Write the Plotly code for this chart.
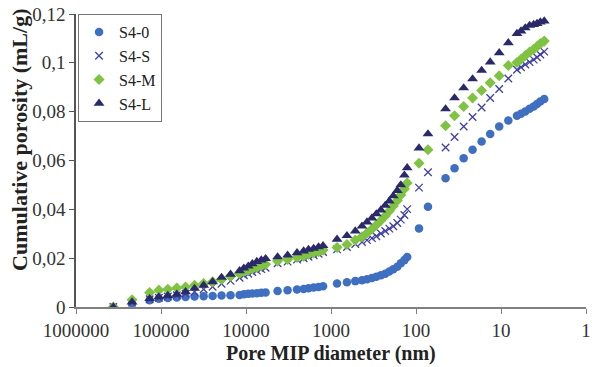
import plotly.graph_objects as go

# Pore MIP diameter (nm), shared grid
diameter = [364000, 219000,
            136000, 106000, 83200, 65200, 51400, 40300, 31500, 24700, 19400, 15200, 11900,
            10600, 9400, 8430, 7460, 6610, 5880,
            4250, 3240, 2510, 2100, 1840, 1600, 1400, 1240,
            849, 649, 518, 432, 377, 330, 293, 259, 230, 206, 185, 166, 151, 137, 127,
            92.2, 72.3, 44.9, 35.2, 27.5, 21.6, 16.9, 13.4, 10.5, 8.2,
            6.49, 5.82, 5.18, 4.61, 4.13, 3.77, 3.45, 3.10]

s4_0 = [0.0, 0.0015,
        0.00275, 0.0034, 0.0037, 0.0039, 0.0041, 0.0043, 0.0044, 0.0045, 0.0047, 0.0048, 0.0049,
        0.0052, 0.0054, 0.0055, 0.0056, 0.0058, 0.0059,
        0.0066, 0.0069, 0.0072, 0.0074, 0.0077, 0.0080, 0.0082, 0.0085,
        0.0096, 0.0101, 0.0106, 0.0110, 0.0114, 0.0119, 0.0124, 0.0130, 0.0136, 0.0145, 0.0155, 0.0165, 0.0179, 0.0192, 0.0205,
        0.0322, 0.0411, 0.0527, 0.0568, 0.0609, 0.0644, 0.0678, 0.0709, 0.0739, 0.0764,
        0.0783, 0.0791, 0.0801, 0.0812, 0.0821, 0.0831, 0.0842, 0.0852]

s4_s = [0.0, 0.0018,
        0.0032, 0.0038, 0.0043, 0.0048, 0.0054, 0.0062, 0.0073, 0.0083, 0.0095, 0.0107, 0.0120,
        0.0130, 0.0136, 0.0143, 0.0149, 0.0155, 0.0161,
        0.0179, 0.0186, 0.0194, 0.0200, 0.0206, 0.0212, 0.0218, 0.0225,
        0.0236, 0.0246, 0.0258, 0.0266, 0.0274, 0.0282, 0.0290, 0.0301, 0.0311, 0.0321, 0.0331, 0.0344, 0.0358, 0.0377, 0.0401,
        0.0489, 0.0552, 0.0653, 0.0696, 0.0739, 0.0778, 0.0817, 0.0856, 0.0893, 0.0936,
        0.0972, 0.0982, 0.0993, 0.1003, 0.1013, 0.1023, 0.1034, 0.1046]

s4_m = [0.0, 0.0030,
        0.0059, 0.0069, 0.0073, 0.0078, 0.0082, 0.0089, 0.0096, 0.0103, 0.0113, 0.0126, 0.0137,
        0.0147, 0.0151, 0.0157, 0.0163, 0.0169, 0.0175,
        0.0188, 0.0195, 0.0203, 0.0208, 0.0216, 0.0222, 0.0226, 0.0233,
        0.0244, 0.0256, 0.0274, 0.0288, 0.0303, 0.0319, 0.0336, 0.0354, 0.0373, 0.0393, 0.0414, 0.0436, 0.0459, 0.0483, 0.0508,
        0.0589, 0.0644, 0.0742, 0.0783, 0.0821, 0.0856, 0.0887, 0.0918, 0.0947, 0.0989,
        0.1001, 0.1015, 0.1030, 0.1044, 0.1056, 0.1067, 0.1079, 0.1089]

s4_l = [0.0, 0.0020,
        0.0034, 0.0041, 0.0047, 0.0052, 0.0062, 0.0076, 0.0089, 0.0103, 0.0121, 0.0134, 0.0148,
        0.0159, 0.0167, 0.0177, 0.0186, 0.0192, 0.0198,
        0.0205, 0.0212, 0.0222, 0.0229, 0.0236, 0.0240, 0.0246, 0.0251,
        0.0277, 0.0292, 0.0311, 0.0331, 0.0348, 0.0364, 0.0381, 0.0397, 0.0416, 0.0434, 0.0455, 0.0477, 0.0500, 0.0540, 0.0570,
        0.0651, 0.0709, 0.0811, 0.0856, 0.0897, 0.0934, 0.0969, 0.1003, 0.1041, 0.1082,
        0.1120, 0.1130, 0.1143, 0.1153, 0.1157, 0.1161, 0.1167, 0.1171]

series_names = ["S4-0", "S4-S", "S4-M", "S4-L"]
x_tickvals = [1000000, 100000, 10000, 1000, 100, 10, 1]
x_ticktext = ["1000000", "100000", "10000", "1000", "100", "10", "1"]
y_tickvals = [0, 0.02, 0.04, 0.06, 0.08, 0.1, 0.12]
y_ticktext = ["0", "0,02", "0,04", "0,06", "0,08", "0,1", "0,12"]
x_title = "Pore MIP diameter (nm)"
y_title = "Cumulative porosity (mL/g)"

styles = [
    dict(symbol="circle", color="#3F6FC0", size=8.5),
    dict(symbol="x-thin", color="#3F3FA3", size=7.5, line=dict(width=1.3, color="#3F3FA3")),
    dict(symbol="diamond", color="#80C342", size=8.5),
    dict(symbol="triangle-up", color="#2A2A6A", size=9.5),
]
data = [s4_0, s4_s, s4_m, s4_l]

fig = go.Figure()
for name, ys, st in zip(series_names, data, styles):
    fig.add_trace(go.Scatter(x=diameter, y=ys, mode="markers", name=name, marker=st))

serif = "Liberation Serif, Times New Roman, serif"
fig.update_layout(
    width=597, height=367,
    margin=dict(l=76, r=11, t=14, b=60),
    paper_bgcolor="white", plot_bgcolor="white",
    font=dict(family=serif, size=17, color="#222"),
    showlegend=True,
    legend=dict(x=0.004, y=1.0, xanchor="left", yanchor="top",
                bgcolor="white", bordercolor="#777", borderwidth=1,
                font=dict(family=serif, size=16, color="#222"),
                itemwidth=30, tracegroupgap=0),
    xaxis=dict(type="log", range=[6, 0], tickvals=x_tickvals, ticktext=x_ticktext,
               automargin=False,
               showgrid=False, zeroline=False, showline=True, linecolor="#808080", linewidth=1.5,
               ticks="outside", ticklen=5, tickcolor="#808080",
               tickfont=dict(family=serif, size=19, color="#333")),
    yaxis=dict(range=[0, 0.12], tickvals=y_tickvals, ticktext=y_ticktext,
               automargin=False,
               showgrid=False, zeroline=False, showline=True, linecolor="#555", linewidth=1.5,
               ticks="outside", ticklen=5, tickcolor="#555",
               tickfont=dict(family=serif, size=19, color="#333")),
    annotations=[
        dict(text="<b>%s</b>" % x_title, xref="paper", yref="paper", x=0.5, y=-0.16,
             xanchor="center", yanchor="middle", showarrow=False,
             font=dict(family=serif, size=20, color="#222")),
        dict(text="<b>%s</b>" % y_title, xref="paper", yref="paper", x=-0.11, y=0.57,
             xanchor="center", yanchor="middle", showarrow=False, textangle=-90,
             font=dict(family=serif, size=22, color="#222")),
    ],
)

fig.write_html("out.html")
